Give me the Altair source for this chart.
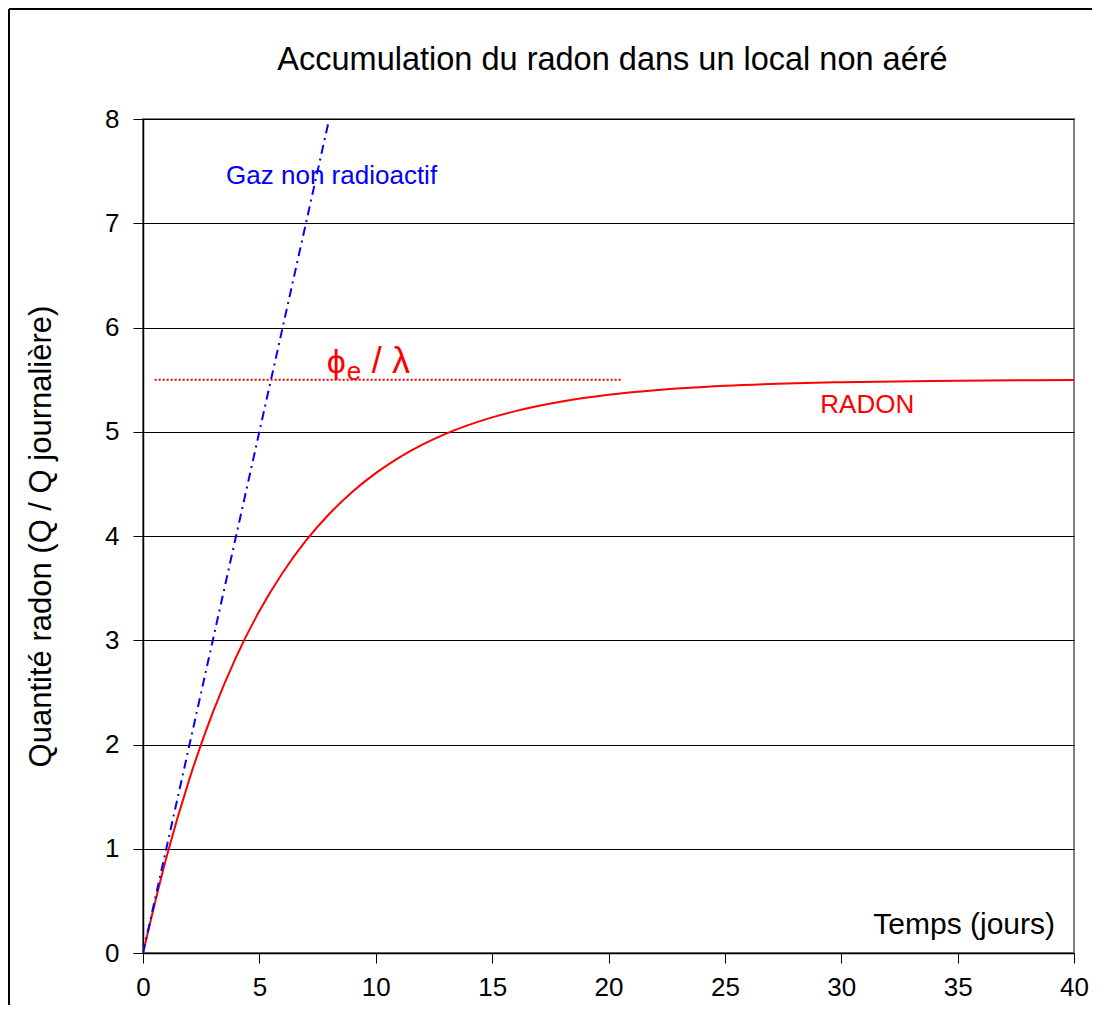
import altair as alt
import pandas as pd

# Data
t_days = [0, 1, 2, 3, 4, 5, 6, 7, 8, 9, 10, 11, 12, 13, 14, 15, 16, 18, 20, 22, 25, 30, 35, 40]
radon_q = [0, 0.912, 1.673, 2.308, 2.838, 3.280, 3.648, 3.955, 4.211, 4.425, 4.603, 4.752,
           4.876, 4.980, 5.066, 5.138, 5.198, 5.290, 5.354, 5.398, 5.441, 5.476, 5.490, 5.496]
gaz_t = [0, 8]
gaz_q = [0, 8]
plateau_t = [0.5, 20.6]
plateau_q = [5.5, 5.5]
title_text = "Accumulation du radon dans un local non aéré"

FONT = "Liberation Sans"
W, H = 931, 834

radon_df = pd.DataFrame({"t": t_days, "q": radon_q})
gaz_df = pd.DataFrame({"t": gaz_t, "q": gaz_q})
plat_df = pd.DataFrame({"t": plateau_t, "q": plateau_q})

xs = alt.Scale(domain=[0, 40], nice=False, zero=False)
ys = alt.Scale(domain=[0, 8], nice=False, zero=False)

xax = alt.Axis(values=list(range(0, 41, 5)), grid=False, tickSize=10, tickColor="black",
               domainColor="black", domainWidth=1.5, labelFontSize=26, labelFont=FONT,
               labelColor="black", labelPadding=11, title=None, labelFlush=False,
               format="d")
yax = alt.Axis(values=list(range(0, 9)), grid=True, gridColor="black", gridWidth=1,
               tickSize=10, tickColor="black", domainColor="black", domainWidth=1.5,
               labelFontSize=26, labelFont=FONT, labelColor="black", labelPadding=14,
               format="d",
               title="Quantité radon  (Q / Q journalière)", titleFont=FONT,
               titleFontSize=31, titleFontWeight="normal", titleColor="black",
               titlePadding=47, labelFlush=False)

base_x = alt.X("t:Q", scale=xs, axis=xax)
base_y = alt.Y("q:Q", scale=ys, axis=yax)

radon = alt.Chart(radon_df).mark_line(color="red", strokeWidth=2, interpolate="monotone").encode(
    x=base_x, y=base_y)
gaz = alt.Chart(gaz_df).mark_line(color="blue", strokeWidth=2, strokeDash=[9, 5, 2, 5], clip=True).encode(
    x=alt.X("t:Q", scale=xs), y=alt.Y("q:Q", scale=ys))
plat = alt.Chart(plat_df).mark_line(color="red", strokeWidth=2, strokeDash=[2, 2]).encode(
    x=alt.X("t:Q", scale=xs), y=alt.Y("q:Q", scale=ys))

def label(text, x, y, size, color, align="left", dx=0, dy=0, baseline="middle"):
    d = pd.DataFrame({"t": [x], "q": [y], "txt": [text]})
    return alt.Chart(d).mark_text(font=FONT, fontSize=size, color=color, align=align,
                                  baseline=baseline, dx=dx, dy=dy).encode(
        x=alt.X("t:Q", scale=xs), y=alt.Y("q:Q", scale=ys), text="txt:N")

gaz_lbl = label("Gaz non radioactif", 3.57, 7.45, 26, "blue")
radon_lbl = label("RADON", 29.1, 5.26, 26, "red")
phi_lbl = label("ϕ", 7.9, 5.56, 34, "red", baseline="alphabetic")
e_lbl = label("e", 7.9, 5.56, 26, "red", dx=20, dy=7, baseline="alphabetic")
lam_lbl = label("/ λ", 7.9, 5.56, 36, "red", dx=45, baseline="alphabetic")
temps_lbl = label("Temps (jours)", 40, 0.27, 30, "black", align="right", dx=-19)

title_mark = alt.Chart(pd.DataFrame({"txt": [title_text]})).mark_text(
    font=FONT, fontSize=32.5, color="black", align="center", baseline="alphabetic").encode(
    x=alt.value(W / 2 + 4), y=alt.value(-49), text="txt:N")

frame_df = pd.DataFrame({"a": [0]})
left_edge = alt.Chart(frame_df).mark_rule(color="black", strokeWidth=2, clip=False).encode(
    x=alt.value(-134), y=alt.value(-110), y2=alt.value(H + 60))
top_edge = alt.Chart(frame_df).mark_rule(color="black", strokeWidth=2, clip=False).encode(
    x=alt.value(-134), x2=alt.value(W + 18), y=alt.value(-110))

chart = alt.layer(left_edge, top_edge, title_mark, plat, radon, gaz, gaz_lbl, radon_lbl, phi_lbl,
                  e_lbl, lam_lbl, temps_lbl).properties(
    width=W, height=H,
    autosize=alt.AutoSizeParams(type="none"),
    padding={"left": 135, "top": 111, "right": 18, "bottom": 52},
).configure_view(stroke="#808080", strokeWidth=2)

chart.save("out.html", embed_options={"renderer": "svg", "actions": False})
